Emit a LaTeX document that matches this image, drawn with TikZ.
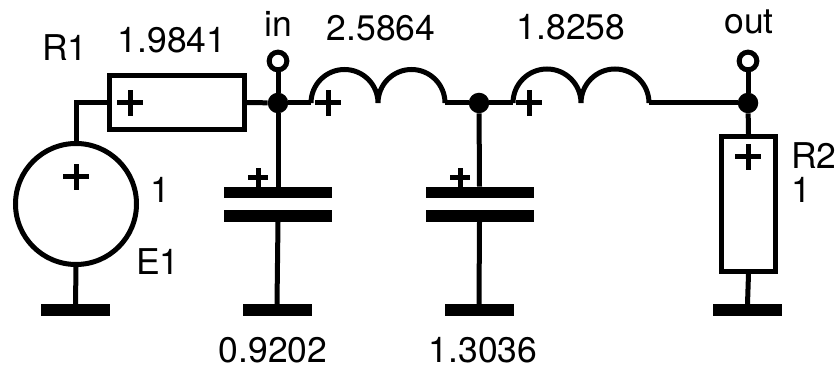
\documentclass[tikz,border=0pt]{standalone}
\usepackage{fontspec}
\setmainfont{TeX Gyre Heros}

\tikzset{
    part/.style={draw, rectangle, line width=5pt, inner sep=0pt, fill=white},
    source/.style={draw, circle, line width=5pt, inner sep=0pt, minimum size=121pt},
    bar/.style={fill=black, rectangle, inner sep=0pt, minimum height=11.5pt},
    plate/.style={bar, minimum width=108pt},
    ground/.style={bar, minimum width=69pt},
    dot/.style={fill=black, circle, inner sep=0pt, minimum size=20.5pt},
    terminal/.style={draw, circle, line width=5pt, inner sep=0pt, minimum size=17.7pt},
    plusmark/.pic={\draw[line width=5pt] (-13,0) -- (13,0) (0,-13) -- (0,13);},
    smallplus/.pic={\draw[line width=5pt] (-10,0) -- (10,0) (0,-10) -- (0,10);},
    value/.style={inner sep=0pt, font=\fontsize{35.5}{35.5}\selectfont},
    wire/.style={line width=5pt},
}

\begin{document}
\begin{tikzpicture}[x=1pt, y=1pt]
    \useasboundingbox (0,0) rectangle (836,369);

    %% parts
    \draw
    (76,165)node[source](e1){}
    (176.75,266.5)node[part, minimum width=134.7pt, minimum height=53.7pt](r1){}
    (748.5,165)node[part, minimum width=54pt, minimum height=135pt](r2){}
    (278,176.5)node[plate](c1a){}
    (278,153)node[plate](c1b){}
    (479.5,176.5)node[plate](c2a){}
    (479.5,153)node[plate](c2b){}
    ;

    %% grounds
    \draw
    (75.5,59)node[ground](g1){}
    (277,59)node[ground](g2){}
    (479,59)node[ground](g3){}
    (747.5,59)node[ground](g4){}
    ;

    %% junctions and terminals
    \draw
    (278,266)node[dot](j1){}
    (479,266)node[dot](j2){}
    (748,266)node[dot](j3){}
    (278,308)node[terminal](tin){}
    (748,308)node[terminal](tout){}
    ;

    %% inductors
    \coordinate (l1a) at (311,266);
    \coordinate (l2a) at (513,266);
    \draw[wire] (l1a) arc[start angle=180, end angle=0, radius=33.5] arc[start angle=180, end angle=0, radius=33.5] coordinate (l1b);
    \draw[wire] (l2a) arc[start angle=180, end angle=0, radius=34] arc[start angle=180, end angle=0, radius=34] coordinate (l2b);

    %% wires
    \draw[wire] (e1.north) |- (r1.west);
    \draw[wire] (e1.south) -- (g1.north);
    \draw[wire] (r1.east) -- (j1);
    \draw[wire] (j1) -- (l1a);
    \draw[wire] (l1b) -- (j2);
    \draw[wire] (j2) -- (l2a);
    \draw[wire] (l2b) -- (j3);
    \draw[wire] (tin) -- (j1);
    \draw[wire] (tout) -- (j3);
    \draw[wire] (j1) -- (c1a.north);
    \draw[wire] (c1b.south) -- (g2.north);
    \draw[wire] (j2) -- (c2a.north);
    \draw[wire] (c2b.south) -- (g3.north);
    \draw[wire] (j3) -- (r2.north);
    \draw[wire] (r2.south) -- (g4.north);

    %% plus signs
    \path
    (76,192)pic(p1){plusmark}
    (130,266)pic(p2){plusmark}
    (328,266)pic(p3){plusmark}
    (529,266)pic(p4){plusmark}
    (748,212)pic(p5){plusmark}
    (258,191)pic(p6){smallplus}
    (460,191)pic(p7){smallplus}
    ;

    %% labels
    \draw
    (65,321)node[value](lr1){R1}
    (172,329)node[value](vr1){1.9841}
    (278,345)node[value](lin){in}
    (381,341)node[value](vl1){2.5864}
    (571,342)node[value](vl2){1.8258}
    (749,347)node[value](lout){out}
    (160,179)node[value](ve1){1}
    (158,107)node[value](le1){E1}
    (273,19)node[value](vc1){0.9202}
    (483,19)node[value](vc2){1.3036}
    (791,213)node[value, anchor=west](lr2){R2}
    (791,179)node[value, anchor=west](vr2){1}
    ;
\end{tikzpicture}
\end{document}
